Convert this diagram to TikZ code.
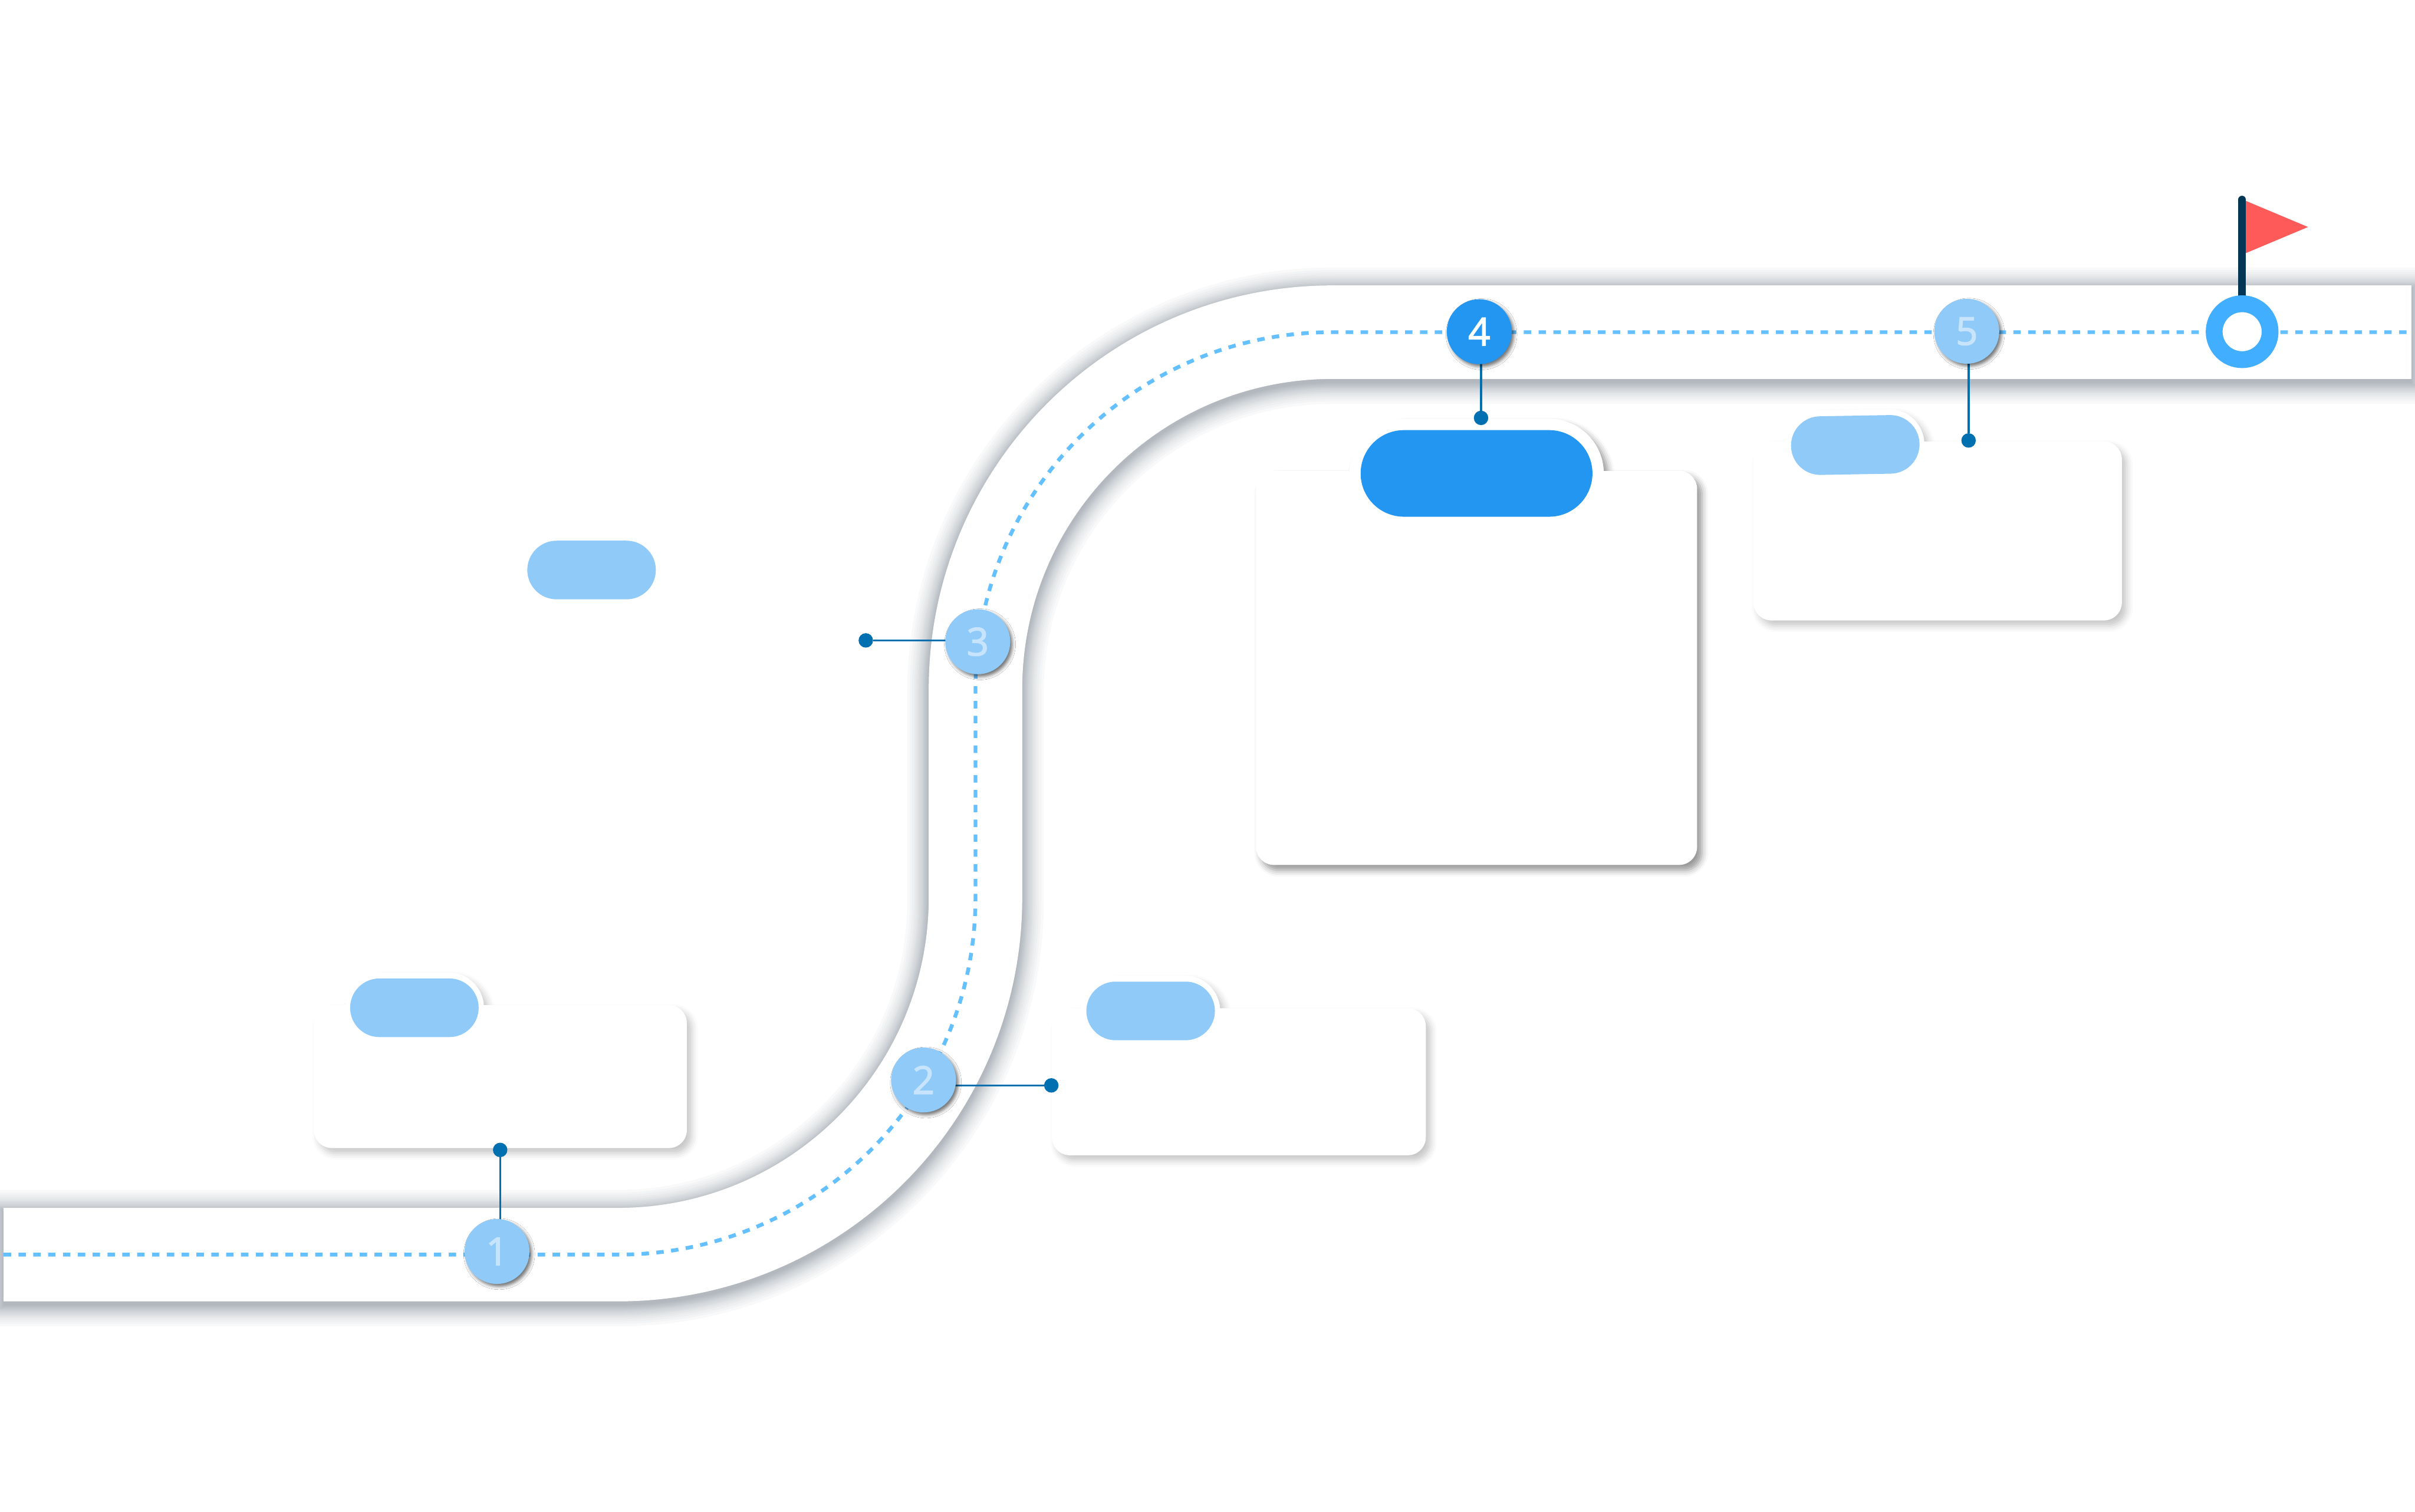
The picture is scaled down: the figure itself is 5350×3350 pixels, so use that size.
\documentclass[tikz,border=0pt]{standalone}
\usepackage{fontspec}
\setmainfont{Open Sans}
\newfontfamily\digitfont[FakeBold=2.2]{Open Sans}
\usepackage{xcolor}
\definecolor{roadshade}{HTML}{3C4C5C}
\definecolor{dashblue}{HTML}{64C0FF}
\definecolor{ringblue}{HTML}{42AEFF}
\definecolor{paleblue}{HTML}{90CAF8}
\definecolor{deepblue}{HTML}{2296F0}
\definecolor{leaderblue}{HTML}{0070B0}
\definecolor{digitpale}{HTML}{C8E3FC}
\definecolor{flagred}{HTML}{FF5A5A}
\definecolor{polenavy}{HTML}{033655}
\usetikzlibrary{shapes.misc, shadows.blur}

% centre line of the road, #1 lengthens both ends
\newcommand{\roadline}[1]{(8-#1,2780) -- (1369,2780)
  .. controls (1806,2780) and (2161,2426) .. (2161,1989) -- (2161,1527)
  .. controls (2161,1090) and (2515,736) .. (2952,736) -- (5342+#1,736)}

\begin{document}
\begin{tikzpicture}[
  x=0.005cm, y=-0.005cm,
  softcard/.style={blur shadow={shadow xshift=1.5pt, shadow yshift=-1.7pt,
                   shadow blur radius=2pt, shadow opacity=22}},
  hardcard/.style={blur shadow={shadow xshift=1.5pt, shadow yshift=-1.7pt,
                   shadow blur radius=2pt, shadow opacity=42}},
  card/.style={rectangle, fill=white, rounded corners=0.2cm, inner sep=0pt, outer sep=0pt},
  halo/.style={rounded rectangle, fill=white, inner sep=0pt, outer sep=0pt},
  pill/.style={rounded rectangle, inner sep=0pt, outer sep=0pt, fill=paleblue,
               minimum width=1.425cm, minimum height=0.65cm},
  stopnode/.style={circle, fill=paleblue, text=digitpale, minimum size=0.72cm, inner sep=0pt,
                   outer sep=0pt, font=\digitfont\fontsize{12.2}{13}\selectfont,
                   blur shadow={shadow xshift=0.7pt, shadow yshift=-0.8pt,
                   shadow blur radius=1pt, shadow opacity=55}},
  enddot/.style={circle, fill=leaderblue, minimum size=0.16cm, inner sep=0pt, outer sep=0pt},
  leader/.style={leaderblue, line width=0.65pt}
]
\useasboundingbox (0,0) rectangle (5350,3350);

% road with its soft edge
\foreach \d in {48,42,37,32,28,24,21,18,15,13,11,9,7,5,3,1}
  \draw[roadshade, draw opacity=0.03, line width={29.5pt+\d*0.283pt}, yshift=-1.1pt] \roadline{\d};
\draw[white, line width=29.5pt] \roadline{0};
\draw[dashblue, line width=1.2pt, dash pattern=on 2.35pt off 2.33pt] \roadline{0};

% cards
\node[halo, softcard, minimum width=1.54cm, minimum height=0.78cm] (halo1) at (918,2233) {};
\node[card, softcard, minimum width=4.135cm, minimum height=1.585cm] (card1) at (1108.5,2385.5) {};
\node[halo, minimum width=1.54cm, minimum height=0.78cm] at (halo1) {};
\node[pill] (pill1) at (halo1) {};

\node[halo, softcard, minimum width=1.54cm, minimum height=0.78cm] (halo2) at (2549,2240) {};
\node[card, softcard, minimum width=4.145cm, minimum height=1.63cm] (card2) at (2744.5,2397) {};
\node[halo, minimum width=1.54cm, minimum height=0.78cm] at (halo2) {};
\node[pill] (pill2) at (halo2) {};

\node[pill] (pill3) at (1310.5,1263) {};

\node[halo, hardcard, minimum width=2.82cm, minimum height=1.21cm] (halo4) at (3271,1049) {};
\node[card, hardcard, minimum width=4.89cm, minimum height=4.37cm] (card4) at (3271,1480) {};
\node[halo, minimum width=2.82cm, minimum height=1.21cm] at (halo4) {};
\node[pill, fill=deepblue, minimum width=2.57cm, minimum height=0.96cm] (pill4) at (halo4) {};

\node[halo, softcard, rotate=1, minimum width=1.55cm, minimum height=0.78cm] (halo5) at (4108,986) {};
\node[card, softcard, minimum width=4.085cm, minimum height=1.985cm] (card5) at (4292.5,1176.5) {};
\node[halo, rotate=1, minimum width=1.55cm, minimum height=0.78cm] at (halo5) {};
\node[pill, rotate=1] (pill5) at (4110,986) {};

% leader ends
\node[enddot] (dot1) at (1108,2548) {};
\node[enddot] (dot2) at (2329,2405) {};
\node[enddot] (dot3) at (1918,1419) {};
\node[enddot] (dot4) at (3281,926) {};
\node[enddot] (dot5) at (4361,976) {};

\coordinate (mark1) at (1101,2773);
\coordinate (mark2) at (2046,2393);
\coordinate (mark3) at (2166,1422);
\coordinate (mark4) at (3277,735);
\coordinate (mark5) at (4357,734);

\draw[leader] (dot1) -- (dot1 |- mark1);
\draw[leader] (dot2) -- (dot2 -| mark2);
\draw[leader] (dot3) -- (dot3 -| mark3);
\draw[leader] (dot4) -- (dot4 |- mark4);
\draw[leader] (dot5) -- (dot5 |- mark5);

% stops on the road
\node[stopnode] (stop1) at (mark1) {1};
\node[stopnode] (stop2) at (mark2) {2};
\node[stopnode] (stop3) at (mark3) {3};
\node[stopnode, fill=deepblue, text=white] (stop4) at (mark4) {4};
\node[stopnode] (stop5) at (mark5) {5};

% finish flag
\coordinate (poletop) at (4967,442);
\coordinate (finishmark) at (4967,735);
\fill[flagred] (4975,445) -- (5113,503) -- (4975,561) -- cycle;
\draw[polenavy, line width=2.35pt, line cap=round] (poletop) -- (finishmark);
\node[circle, fill=white, draw=ringblue, line width=5.3pt, minimum size=0.62cm, inner sep=0pt,
      outer sep=0pt] (finish) at (finishmark) {};
\end{tikzpicture}
\end{document}
